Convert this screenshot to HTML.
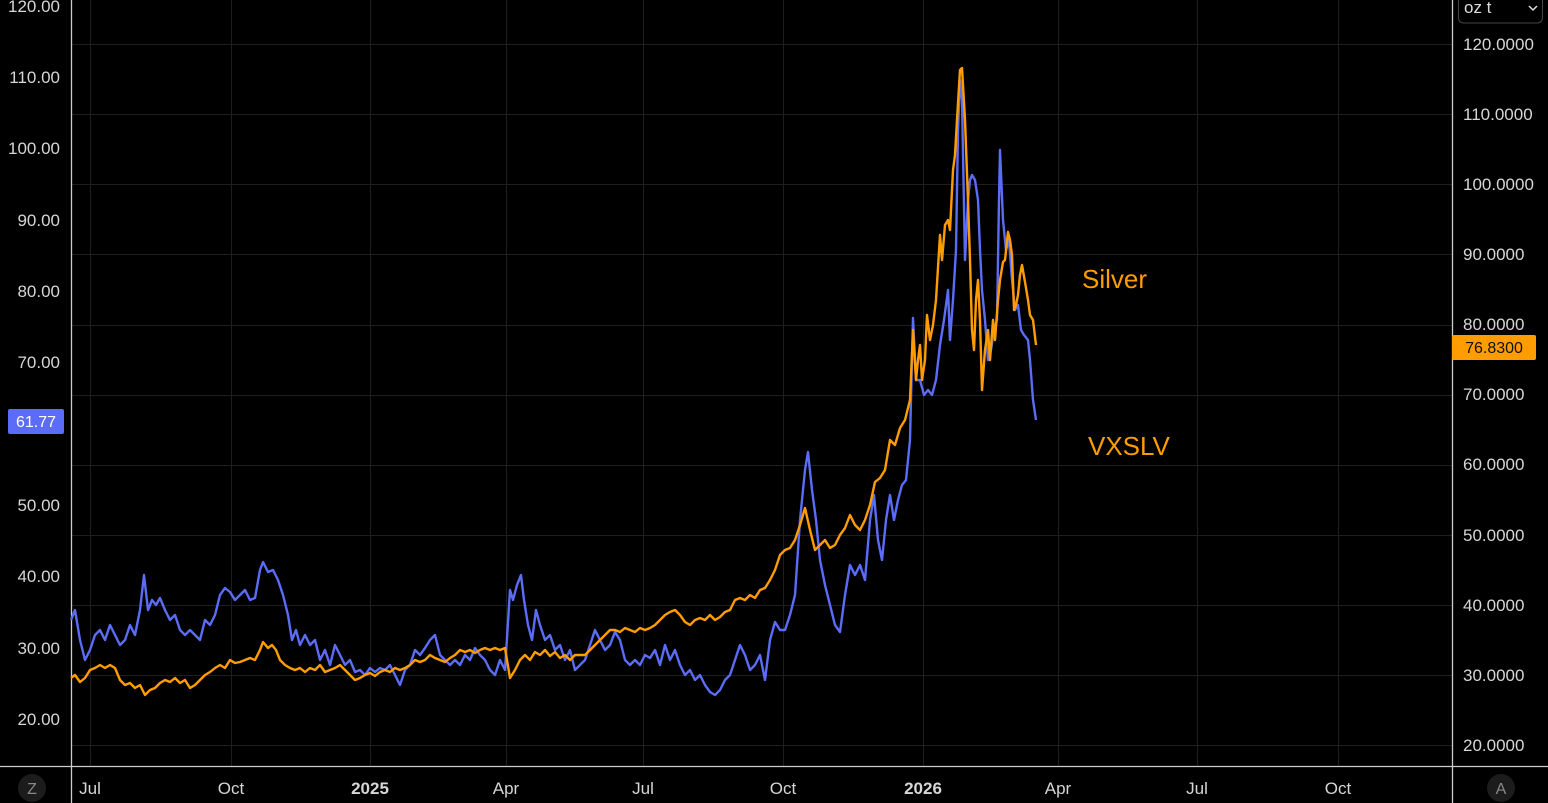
<!DOCTYPE html>
<html><head><style>
body{margin:0;background:#000;width:1548px;height:803px;overflow:hidden;font-family:"Liberation Sans",sans-serif}
svg{position:absolute;left:0;top:0}
</style></head><body>
<svg width="1548" height="803" viewBox="0 0 1548 803">
<rect width="1548" height="803" fill="#000"/>
<g stroke="#1e1e22" stroke-width="1">
<line x1="71" x2="1452" y1="44.5" y2="44.5"/><line x1="71" x2="1452" y1="114.5" y2="114.5"/><line x1="71" x2="1452" y1="184.5" y2="184.5"/><line x1="71" x2="1452" y1="254.5" y2="254.5"/><line x1="71" x2="1452" y1="325.5" y2="325.5"/><line x1="71" x2="1452" y1="395.5" y2="395.5"/><line x1="71" x2="1452" y1="465.5" y2="465.5"/><line x1="71" x2="1452" y1="535.5" y2="535.5"/><line x1="71" x2="1452" y1="605.5" y2="605.5"/><line x1="71" x2="1452" y1="675.5" y2="675.5"/><line x1="71" x2="1452" y1="745.5" y2="745.5"/>
<line x1="90.5" x2="90.5" y1="0" y2="766"/><line x1="231.5" x2="231.5" y1="0" y2="766"/><line x1="370.5" x2="370.5" y1="0" y2="766"/><line x1="506.5" x2="506.5" y1="0" y2="766"/><line x1="643.5" x2="643.5" y1="0" y2="766"/><line x1="783.5" x2="783.5" y1="0" y2="766"/><line x1="923.5" x2="923.5" y1="0" y2="766"/><line x1="1058.5" x2="1058.5" y1="0" y2="766"/><line x1="1197.5" x2="1197.5" y1="0" y2="766"/><line x1="1338.5" x2="1338.5" y1="0" y2="766"/>
</g>
<g stroke="#ccc" stroke-width="1.3">
<line x1="71.5" x2="71.5" y1="0" y2="803"/><line x1="1452.5" x2="1452.5" y1="0" y2="803"/><line x1="0" x2="1548" y1="766.5" y2="766.5"/>
</g>
<polyline fill="none" stroke="#5b6cf7" stroke-width="2.4" stroke-linejoin="round" points="71,620 75,610 80,640 85,660 90,650 95,635 100,630 105,640 110,625 115,635 120,645 125,640 130,625 135,635 140,610 144,575 148,610 152,600 156,605 160,598 165,610 170,620 175,615 180,630 185,635 190,630 195,635 200,640 205,620 210,625 215,615 220,595 225,588 230,592 235,600 240,595 245,590 250,600 255,598 260,570 263,562 268,572 273,570 278,580 283,595 288,615 292,640 296,630 300,645 305,635 310,645 315,640 320,660 325,650 330,665 335,645 340,655 345,665 350,660 355,672 360,670 365,675 370,668 375,672 380,668 385,670 390,665 395,675 400,685 405,670 410,665 415,650 420,655 425,648 430,640 435,635 440,655 445,660 450,665 455,660 460,665 465,655 470,660 475,648 480,655 485,660 490,670 495,675 500,660 505,670 510,590 513,600 517,585 521,575 524,600 528,625 532,640 536,610 540,625 545,640 550,635 555,650 560,645 565,660 570,650 575,670 580,665 585,660 590,645 595,630 600,640 605,650 610,645 615,632 620,640 625,660 630,665 635,660 640,665 645,655 650,658 655,650 660,665 665,645 670,660 675,650 680,665 685,675 690,670 695,680 700,675 705,685 710,692 715,695 720,690 725,680 730,675 735,660 740,645 745,655 750,670 755,665 760,655 765,680 770,640 775,622 780,630 785,630 790,615 795,595 800,520 805,470 808,452 812,490 816,520 820,560 825,585 830,605 835,625 840,632 845,595 850,565 855,575 860,565 865,580 870,520 874,495 878,540 882,560 886,520 890,495 894,520 898,500 902,485 906,480 910,440 913,318 916,380 920,380 924,395 928,390 932,395 936,380 940,345 944,320 948,290 950,340 953,300 956,250 958,130 960,80 962,100 965,260 968,200 970,180 972,175 975,180 978,200 980,250 982,290 985,320 988,360 991,350 994,330 997,320 999,200 1000,150 1003,220 1006,250 1009,240 1012,280 1015,310 1018,305 1021,330 1024,335 1028,340 1030,360 1033,400 1036,420"/>
<polyline fill="none" stroke="#ff9d00" stroke-width="2.4" stroke-linejoin="round" points="71,678 75,675 80,682 85,678 90,670 95,668 100,665 105,668 110,665 115,668 120,680 125,685 130,683 135,688 140,685 145,695 150,690 155,688 160,683 165,680 170,682 175,678 180,683 185,680 190,688 195,685 200,680 205,675 210,672 215,668 220,665 225,668 230,660 235,663 240,662 245,660 250,658 255,660 260,650 263,642 268,648 272,645 276,650 280,660 285,665 290,668 295,670 300,668 305,672 310,668 315,670 320,665 325,672 330,670 335,668 340,665 345,670 350,675 355,680 360,678 365,675 370,673 375,676 380,672 385,670 390,672 395,668 400,670 405,668 410,665 415,660 420,662 425,660 430,655 435,658 440,660 445,662 450,658 455,655 460,650 465,652 470,650 475,653 480,650 485,648 490,650 495,648 500,650 505,648 510,678 515,670 520,660 525,655 530,660 535,652 540,655 545,650 550,656 555,652 560,658 565,655 570,660 575,655 580,655 585,655 590,650 595,645 600,640 605,635 610,630 615,630 620,632 625,628 630,630 635,632 640,628 645,630 650,628 655,625 660,620 665,615 670,612 675,610 680,615 685,622 690,625 695,620 700,618 705,620 710,615 715,620 720,617 725,612 730,610 735,600 740,598 745,600 750,595 755,598 760,590 765,588 770,580 775,570 780,555 785,550 790,548 795,540 800,525 805,508 810,530 815,550 820,545 825,540 830,548 835,545 840,535 845,528 850,515 855,525 860,530 865,520 870,505 875,482 880,478 885,470 890,440 895,445 900,428 905,420 910,400 913,330 916,380 918,360 920,345 922,380 925,360 927,315 930,340 933,325 936,300 940,235 942,260 945,225 948,220 950,230 953,170 955,155 957,120 960,70 962,68 965,120 968,200 970,260 972,330 974,350 976,300 978,280 980,320 982,390 985,350 988,330 990,360 993,320 995,340 998,300 1000,280 1003,262 1005,260 1008,232 1010,240 1012,255 1014,310 1016,305 1018,295 1020,275 1022,265 1025,282 1028,300 1030,315 1033,320 1036,345"/>
<text x="1082" y="288" fill="#ff9d00" font-size="26">Silver</text>
<text x="1088" y="455" fill="#ff9d00" font-size="26">VXSLV</text>
<g fill="#d6d6d6" font-size="17" text-anchor="end">
<text x="60" y="12">120.00</text><text x="60" y="83">110.00</text><text x="60" y="154">100.00</text><text x="60" y="226">90.00</text><text x="60" y="297">80.00</text><text x="60" y="368">70.00</text><text x="60" y="511">50.00</text><text x="60" y="582">40.00</text><text x="60" y="654">30.00</text><text x="60" y="725">20.00</text>
</g>
<g fill="#d6d6d6" font-size="17">
<text x="1463" y="50">120.0000</text><text x="1463" y="120">110.0000</text><text x="1463" y="190">100.0000</text><text x="1463" y="260">90.0000</text><text x="1463" y="330">80.0000</text><text x="1463" y="400">70.0000</text><text x="1463" y="470">60.0000</text><text x="1463" y="541">50.0000</text><text x="1463" y="611">40.0000</text><text x="1463" y="681">30.0000</text><text x="1463" y="751">20.0000</text>
</g>
<rect x="8" y="409" width="56" height="25" rx="2" fill="#5b6cf7"/>
<text x="36" y="427" fill="#fff" font-size="16" text-anchor="middle">61.77</text>
<rect x="1452" y="335" width="84" height="25" rx="2" fill="#ff9d00"/>
<text x="1494" y="353" fill="#111" font-size="16" text-anchor="middle">76.8300</text>
<rect x="1458.5" y="-8" width="84" height="31" rx="5" fill="none" stroke="#444"/>
<text x="1464" y="13" fill="#ddd" font-size="17">oz t</text>
<path d="M1529 6l4 4 4-4" fill="none" stroke="#ddd" stroke-width="1.5"/>
<g fill="#d6d6d6" font-size="17" text-anchor="middle">
<text x="90" y="794">Jul</text><text x="231" y="794">Oct</text><text x="370" y="794" font-weight="bold">2025</text><text x="506" y="794">Apr</text><text x="643" y="794">Jul</text><text x="783" y="794">Oct</text><text x="923" y="794" font-weight="bold">2026</text><text x="1058" y="794">Apr</text><text x="1197" y="794">Jul</text><text x="1338" y="794">Oct</text>
</g>
<circle cx="32" cy="788" r="14" fill="#1c1c1c"/><text x="32" y="794" fill="#888" font-size="16" text-anchor="middle">Z</text>
<circle cx="1501" cy="788" r="14" fill="#1c1c1c"/><text x="1501" y="794" fill="#888" font-size="16" text-anchor="middle">A</text>
</svg>
</body></html>
